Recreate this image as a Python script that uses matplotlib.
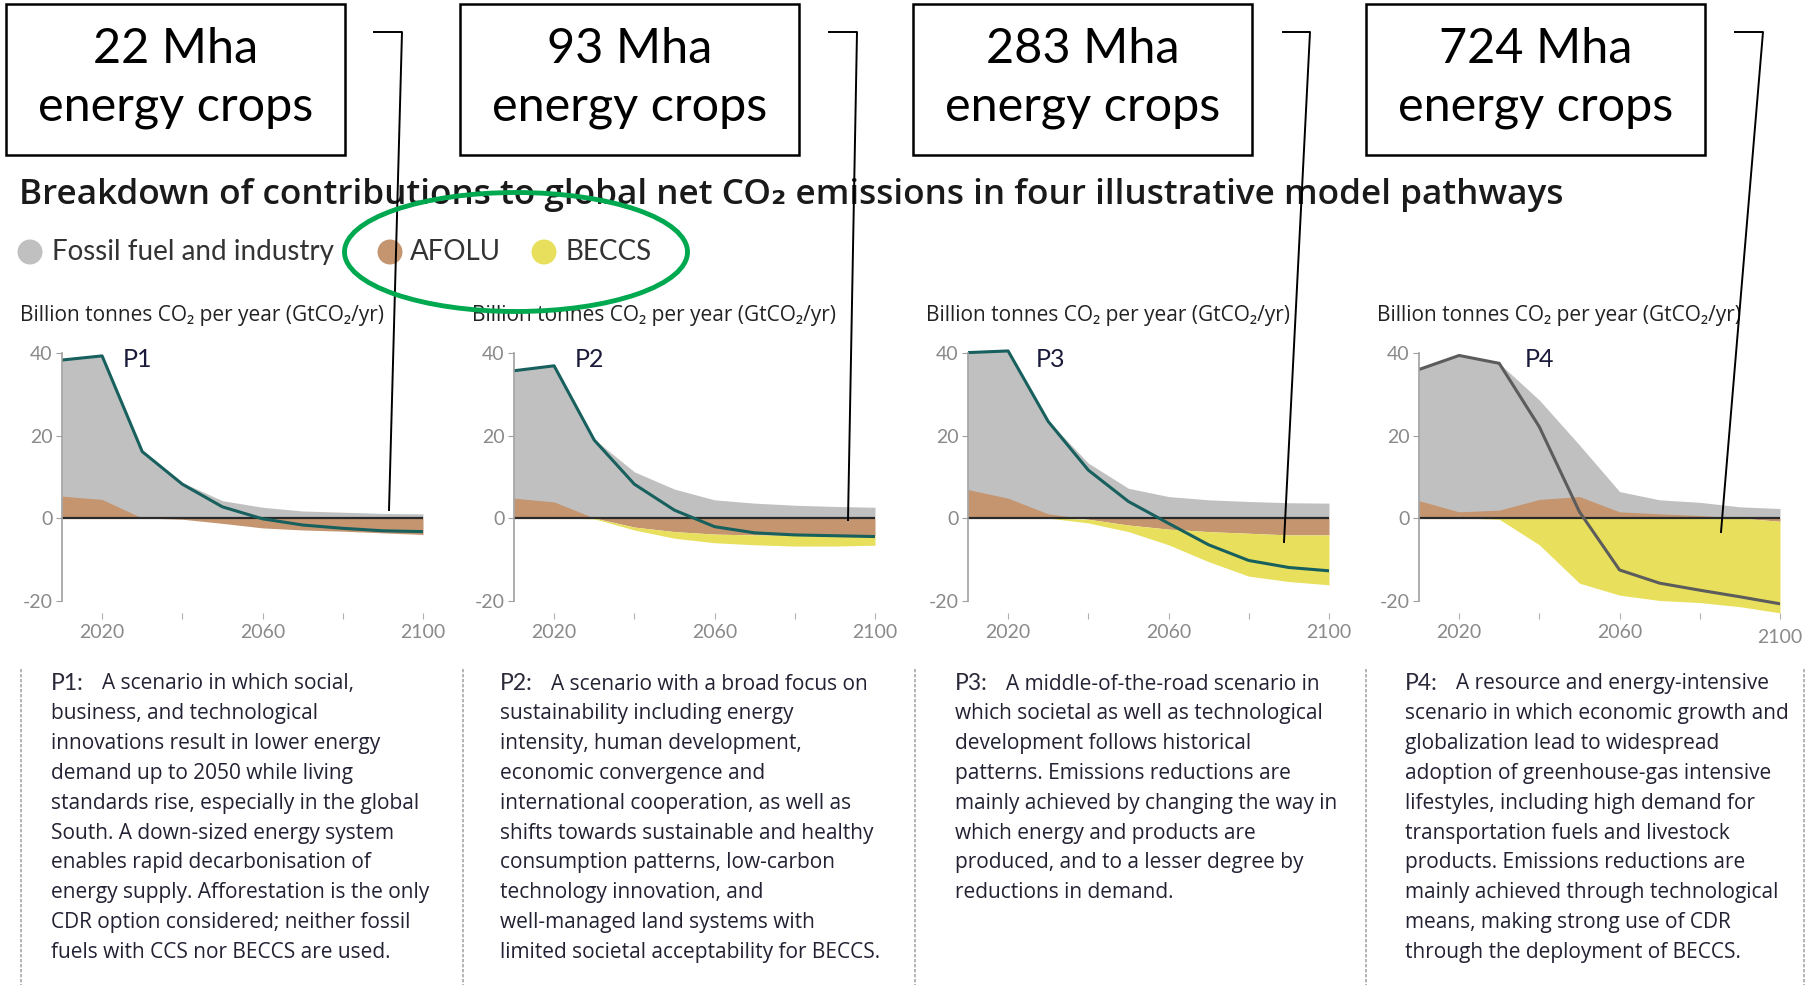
import numpy as np
import matplotlib.pyplot as plt
from matplotlib.patches import Ellipse, Rectangle
from matplotlib.lines import Line2D

plt.rcParams['font.family'] = ['Lato', 'DejaVu Sans']
plt.rcParams['axes.unicode_minus'] = False
BODY_FONT = ['Open Sans', 'DejaVu Sans']

# data (GtCO2/yr)
years = [2010, 2020, 2030, 2040, 2050, 2060, 2070, 2080, 2090, 2100]

fossil_p1 = [33.0, 34.8, 16.1, 8.6, 4.2, 2.6, 1.7, 1.4, 1.1, 1.0]
afolu_p1 = [5.3, 4.5, 0.0, -0.3, -1.3, -2.4, -2.9, -3.2, -3.6, -4.0]
beccs_p1 = [0, 0, 0, 0, 0, 0, 0, 0, 0, 0]
net_p1 = [38.3, 39.3, 16.1, 8.2, 2.7, -0.2, -1.7, -2.5, -3.1, -3.3]

fossil_p2 = [30.9, 33.0, 19.1, 11.2, 7.0, 4.4, 3.6, 3.1, 2.8, 2.6]
afolu_p2 = [4.8, 3.9, 0.0, -2.2, -3.3, -3.9, -4.1, -4.2, -4.2, -4.3]
beccs_p2 = [0, 0, -0.2, -0.7, -1.6, -2.1, -2.4, -2.6, -2.6, -2.3]
net_p2 = [35.7, 36.9, 18.9, 8.2, 1.9, -2.1, -3.6, -4.1, -4.3, -4.5]

fossil_p3 = [33.2, 35.7, 22.6, 13.3, 7.2, 5.2, 4.4, 4.0, 3.7, 3.6]
afolu_p3 = [6.9, 4.8, 1.0, -0.3, -1.7, -2.7, -3.3, -3.7, -4.1, -4.1]
beccs_p3 = [0, 0, 0, -0.9, -1.6, -3.8, -7.3, -10.4, -11.3, -12.1]
net_p3 = [40.1, 40.5, 23.4, 11.6, 4.0, -1.3, -6.5, -10.3, -12.0, -12.8]

fossil_p4 = [31.8, 37.9, 35.6, 24.1, 12.5, 4.9, 3.4, 3.2, 2.7, 2.3]
afolu_p4 = [4.2, 1.5, 1.9, 4.5, 5.2, 1.5, 1.0, 0.6, 0.0, -0.8]
beccs_p4 = [0, 0, -0.3, -6.5, -15.8, -18.7, -20.0, -20.5, -21.5, -22.2]
net_p4 = [36.0, 39.4, 37.5, 22.1, 1.5, -12.6, -15.8, -17.5, -19.1, -20.8]

pathways = ['P1', 'P2', 'P3', 'P4']
crops = ['22 Mha', '93 Mha', '283 Mha', '724 Mha']
legend_labels = ['Fossil fuel and industry', 'AFOLU', 'BECCS']
title = 'Breakdown of contributions to global net CO\u2082 emissions in four illustrative model pathways'
ylabel = 'Billion tonnes CO\u2082 per year (GtCO\u2082/yr)'

desc_p1 = ['A scenario in which social,',
           'business, and technological',
           'innovations result in lower energy',
           'demand up to 2050 while living',
           'standards rise, especially in the global',
           'South. A down-sized energy system',
           'enables rapid decarbonisation of',
           'energy supply. Afforestation is the only',
           'CDR option considered; neither fossil',
           'fuels with CCS nor BECCS are used.']
desc_p2 = ['A scenario with a broad focus on',
           'sustainability including energy',
           'intensity, human development,',
           'economic convergence and',
           'international cooperation, as well as',
           'shifts towards sustainable and healthy',
           'consumption patterns, low-carbon',
           'technology innovation, and',
           'well-managed land systems with',
           'limited societal acceptability for BECCS.']
desc_p3 = ['A middle-of-the-road scenario in',
           'which societal as well as technological',
           'development follows historical',
           'patterns. Emissions reductions are',
           'mainly achieved by changing the way in',
           'which energy and products are',
           'produced, and to a lesser degree by',
           'reductions in demand.']
desc_p4 = ['A resource and energy-intensive',
           'scenario in which economic growth and',
           'globalization lead to widespread',
           'adoption of greenhouse-gas intensive',
           'lifestyles, including high demand for',
           'transportation fuels and livestock',
           'products. Emissions reductions are',
           'mainly achieved through technological',
           'means, making strong use of CDR',
           'through the deployment of BECCS.']

fossil = [fossil_p1, fossil_p2, fossil_p3, fossil_p4]
afolu = [afolu_p1, afolu_p2, afolu_p3, afolu_p4]
beccs = [beccs_p1, beccs_p2, beccs_p3, beccs_p4]
net = [net_p1, net_p2, net_p3, net_p4]
descs = [desc_p1, desc_p2, desc_p3, desc_p4]

GRAY = '#c0c0c0'
BROWN = '#c4956f'
YELLOW = '#e8e05c'
net_colors = ['#17605e', '#17605e', '#17605e', '#5c5c5c']

W, H = 1816, 985
fig = plt.figure(figsize=(W / 100, H / 100), dpi=100)


def fx(x):
    return x / W


def fy(y):
    return 1 - y / H


ax_left = [62, 514, 968, 1419]
label_x = [2025.2, 2025.2, 2027, 2036.4]
ax_top, ax_bot = 345, 613

for i in range(4):
    ax = fig.add_axes([fx(ax_left[i]), fy(ax_bot), fx(361), (ax_bot - ax_top) / H])
    f = np.array(fossil[i])
    a = np.array(afolu[i])
    b = np.array(beccs[i])
    pos_a = np.clip(a, 0, None)
    neg_a = np.clip(a, None, 0)
    ax.fill_between(years, 0, pos_a + f, color=GRAY, lw=0)
    ax.fill_between(years, 0, a, color=BROWN, lw=0, interpolate=True)
    ax.fill_between(years, neg_a, neg_a + b, color=YELLOW, lw=0)
    ax.plot([2010, 2100], [0, 0], color='#2a2a2a', lw=1.6)
    ax.plot(years, net[i], color=net_colors[i], lw=2.2, solid_joinstyle='round')
    ax.text(label_x[i], 38.5, pathways[i], fontsize=18, color='#1a1a3a', va='center')

    ax.set_xlim(2010, 2100)
    ax.set_ylim(-23.03, 41.94)
    for s in ['top', 'right', 'bottom']:
        ax.spines[s].set_visible(False)
    ax.spines['left'].set_bounds(-20, 40)
    ax.spines['left'].set_color('#a0a0a0')
    ax.spines['left'].set_linewidth(1.2)
    ax.set_yticks([-20, 0, 20, 40])
    ax.set_xticks([2020, 2040, 2060, 2080, 2100])
    ax.set_xticklabels(['2020', '', '2060', '', '2100'])
    ax.tick_params(axis='y', length=4, color='#a0a0a0', labelcolor='#8a8a8a', labelsize=14, pad=3)
    ax.tick_params(axis='x', length=4, color='#b0b0b0', labelcolor='#8a8a8a', labelsize=14, pad=4)
    ax.patch.set_alpha(0)
    if i == 3:
        # last label sits a little lower in this panel
        ax.get_xticklabels()[-1].set_y(-0.02)

    fig.text(fx(ax_left[i] - 42), fy(315), ylabel, fontsize=15, color='#222222', va='center',
             family=BODY_FONT)

# boxes with energy crop areas
box_x = [6, 460, 913, 1366]
for i in range(4):
    fig.add_artist(Rectangle((fx(box_x[i]), fy(155)), fx(339), 151 / H,
                             transform=fig.transFigure, fill=False, ec='black', lw=1.8))
    fig.text(fx(box_x[i] + 170), fy(49), crops[i], fontsize=35, ha='center', va='center')
    fig.text(fx(box_x[i] + 170), fy(107), 'energy crops', fontsize=35, ha='center', va='center')

# leader lines from boxes down to the BECCS areas
leaders = [[(374, 32), (402, 32), (389, 510)],
           [(829, 32), (857, 32), (848, 520)],
           [(1283, 32), (1310, 32), (1284, 542)],
           [(1735, 32), (1763, 32), (1721, 532)]]
for pts in leaders:
    xs = [fx(p[0]) for p in pts]
    ys = [fy(p[1]) for p in pts]
    fig.add_artist(Line2D(xs, ys, transform=fig.transFigure, color='black', lw=1.4, zorder=10))

fig.text(fx(19), fy(195), title, fontsize=25.3, fontweight='semibold', color='#1a1a1a', va='center',
         family=BODY_FONT)

# legend
leg_circ = [30, 390, 544]
leg_text = [52, 410, 566]
for c, tx, lab, col in zip(leg_circ, leg_text, legend_labels, [GRAY, BROWN, YELLOW]):
    fig.add_artist(Ellipse((fx(c), fy(252)), 25 / W, 25 / H, transform=fig.transFigure,
                           color=col, lw=0))
    fig.text(fx(tx), fy(252), lab, fontsize=20, color='#333333', va='center')

fig.add_artist(Ellipse((fx(516), fy(252)), 343 / W, 119 / H, transform=fig.transFigure,
                       fill=False, ec='#00a84f', lw=3.5, zorder=11))

# descriptions
text_x = [51, 500, 955, 1405]
for i in range(4):
    fig.text(fx(text_x[i]), fy(684), pathways[i] + ':', fontsize=16.5, color='#2a2a3a', va='center')
    for j, line in enumerate(descs[i]):
        x0 = text_x[i] + (51 if j == 0 else 0)
        fig.text(fx(x0), fy(684 + 29.8 * j), line, fontsize=15, color='#222233', va='center',
                 family=BODY_FONT)

for x in [21, 463, 915, 1366, 1804]:
    fig.add_artist(Line2D([fx(x), fx(x)], [fy(669), fy(985)], transform=fig.transFigure,
                          color='#a8a8a8', lw=1.2, linestyle=(0, (2, 1))))

fig.savefig('out.png', dpi=100)
